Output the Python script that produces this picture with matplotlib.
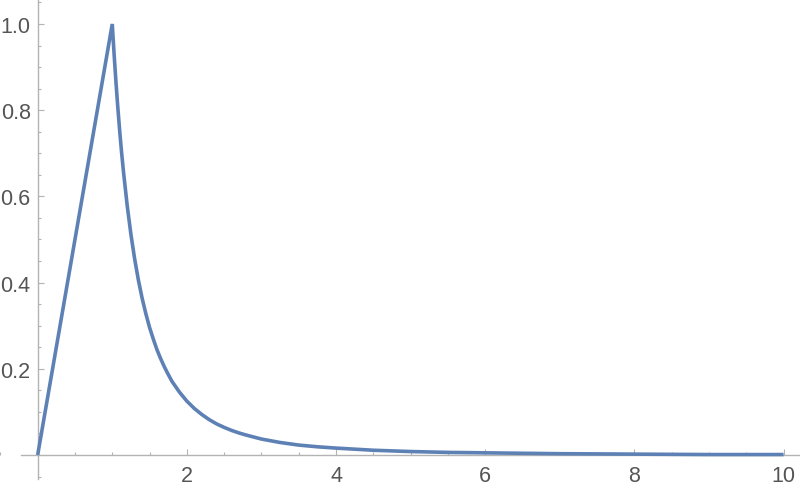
import matplotlib
matplotlib.use("Agg")
import matplotlib.pyplot as plt
from matplotlib.ticker import MultipleLocator, FixedLocator

# values
x_vals = [0.0, 1.0, 1.025, 1.05, 1.075, 1.1, 1.125, 1.15, 1.2, 1.25, 1.3, 1.35,
          1.4, 1.45, 1.5, 1.55, 1.6, 1.65, 1.7, 1.75, 1.8, 1.9, 2.0, 2.1, 2.2,
          2.3, 2.4, 2.5, 2.6, 2.7, 2.8, 3.0, 3.25, 3.5, 3.75, 4.0, 4.5, 5.0,
          5.5, 6.0, 7.0, 8.0, 9.0, 10.0]
y_vals = [0.0, 1.0, 0.929, 0.864, 0.805, 0.751, 0.702, 0.658, 0.579, 0.512,
          0.455, 0.406, 0.364, 0.328, 0.296, 0.269, 0.244, 0.223, 0.204, 0.187,
          0.171, 0.146, 0.125, 0.108, 0.094, 0.082, 0.072, 0.064, 0.057, 0.051,
          0.046, 0.037, 0.029, 0.023, 0.019, 0.016, 0.011, 0.008, 0.006, 0.005,
          0.003, 0.002, 0.001, 0.001]

x_ticks = [2, 4, 6, 8, 10]
y_ticks = [0.2, 0.4, 0.6, 0.8, 1.0]

LINE_COLOR = "#5E81B5"
AXIS_COLOR = "#b3b3b3"
TEXT_COLOR = "#555555"

plt.rcParams["font.family"] = ["Liberation Sans", "DejaVu Sans"]

fig = plt.figure(figsize=(8, 4.89), dpi=100)
ax = fig.add_axes([0, 0, 1, 1])
ax.set_facecolor("none")

ax.plot(x_vals, y_vals, color=LINE_COLOR, linewidth=2.6,
        solid_joinstyle="miter", solid_capstyle="butt", clip_on=False, zorder=3)

ax.set_xlim(-0.505, 10.22)
ax.set_ylim(-0.0766, 1.058)

# axes cross at the origin, Mathematica style
for side in ["top", "right"]:
    ax.spines[side].set_visible(False)
ax.spines["left"].set_position(("data", 0))
ax.spines["bottom"].set_position(("data", 0))
ax.spines["left"].set_bounds(-0.056, 1.058)
ax.spines["bottom"].set_bounds(-0.23, 10.2)
for side in ["left", "bottom"]:
    ax.spines[side].set_color(AXIS_COLOR)
    ax.spines[side].set_linewidth(1.0)

ax.xaxis.set_major_locator(FixedLocator(x_ticks))
ax.yaxis.set_major_locator(FixedLocator(y_ticks))
ax.xaxis.set_minor_locator(MultipleLocator(0.5))
ax.yaxis.set_minor_locator(MultipleLocator(0.05))
ax.set_xticklabels([str(t) for t in x_ticks])
ax.set_yticklabels([f"{t:.1f}" for t in y_ticks])

ax.tick_params(which="both", direction="in", color=AXIS_COLOR, width=0.8)
ax.tick_params(which="major", length=4)
ax.tick_params(which="minor", length=2.5)
ax.tick_params(axis="x", which="major", pad=7, labelsize=15.5, labelcolor=TEXT_COLOR)
ax.tick_params(axis="y", which="major", pad=5, labelsize=15.5, labelcolor=TEXT_COLOR)

fig.savefig("out.png", dpi=100)
